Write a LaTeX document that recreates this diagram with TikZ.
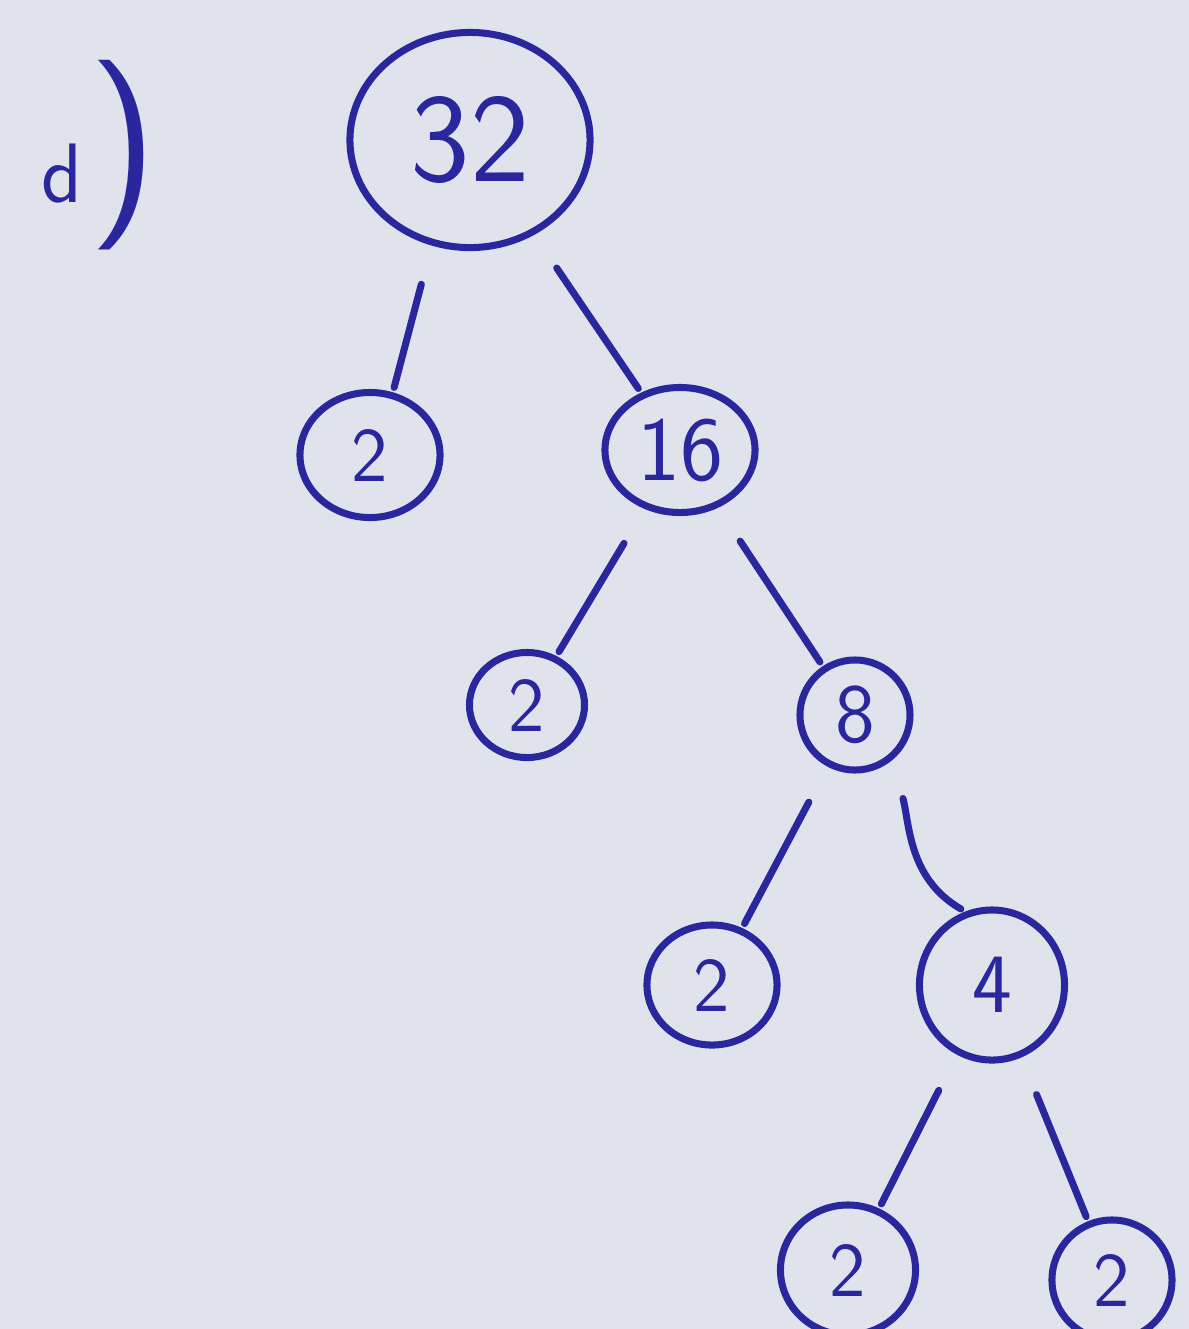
\documentclass[tikz,border=0pt]{standalone}
\usetikzlibrary{shapes.geometric}
\definecolor{inkBlue}{RGB}{42,38,158}
\definecolor{paperGrey}{RGB}{224,227,235}
\begin{document}
\begin{tikzpicture}[
    x=0.01cm, y=-0.01cm,
    factor/.style={draw=inkBlue, ellipse, line width=2pt, inner sep=0pt, text=inkBlue, font=\sffamily\fontsize{22}{24}\selectfont},
    branch/.style={draw=inkBlue, line width=2pt, line cap=round, shorten <=4mm, shorten >=0.5mm}
  ]
  \fill[paperGrey] (0,0) rectangle (1189,1329);
  \useasboundingbox (0,0) rectangle (1189,1329);

  \node[text=inkBlue, font=\sffamily] (partLabel) at (100,155)
    {{\fontsize{24}{26}\selectfont d}\,{\fontsize{54}{58}\selectfont )}};

  % factor tree of 32
  \node[factor, minimum width=2.4cm, minimum height=2.15cm, font=\sffamily\fontsize{36}{40}\selectfont] (root) at (470,140) {32};
  \node[factor, minimum width=1.4cm, minimum height=1.25cm] (twoA) at (370,455) {2};
  \node[factor, minimum width=1.5cm, minimum height=1.25cm, font=\sffamily\fontsize{26}{28}\selectfont] (sixteen) at (680,450) {16};
  \node[factor, minimum width=1.15cm, minimum height=1.05cm] (twoB) at (527,705) {2};
  \node[factor, minimum width=1.1cm, minimum height=1.1cm, font=\sffamily\fontsize{24}{26}\selectfont] (eight) at (855,715) {8};
  \node[factor, minimum width=1.3cm, minimum height=1.2cm] (twoC) at (712,985) {2};
  \node[factor, minimum width=1.45cm, minimum height=1.5cm, font=\sffamily\fontsize{24}{26}\selectfont] (four) at (992,985) {4};
  \node[factor, minimum width=1.35cm, minimum height=1.3cm] (twoD) at (848,1270) {2};
  \node[factor, minimum width=1.2cm, minimum height=1.2cm] (twoE) at (1112,1280) {2};

  \draw[branch] (root.-110) -- (twoA.70);
  \draw[branch] (root) -- (sixteen);
  \draw[branch] (sixteen) -- (twoB);
  \draw[branch] (sixteen) -- (eight);
  \draw[branch] (eight) -- (twoC);
  \draw[branch] (eight.-50) to[out=-75,in=150] (four.110);
  \draw[branch] (four) -- (twoD);
  \draw[branch] (four) -- (twoE);
\end{tikzpicture}
\end{document}
